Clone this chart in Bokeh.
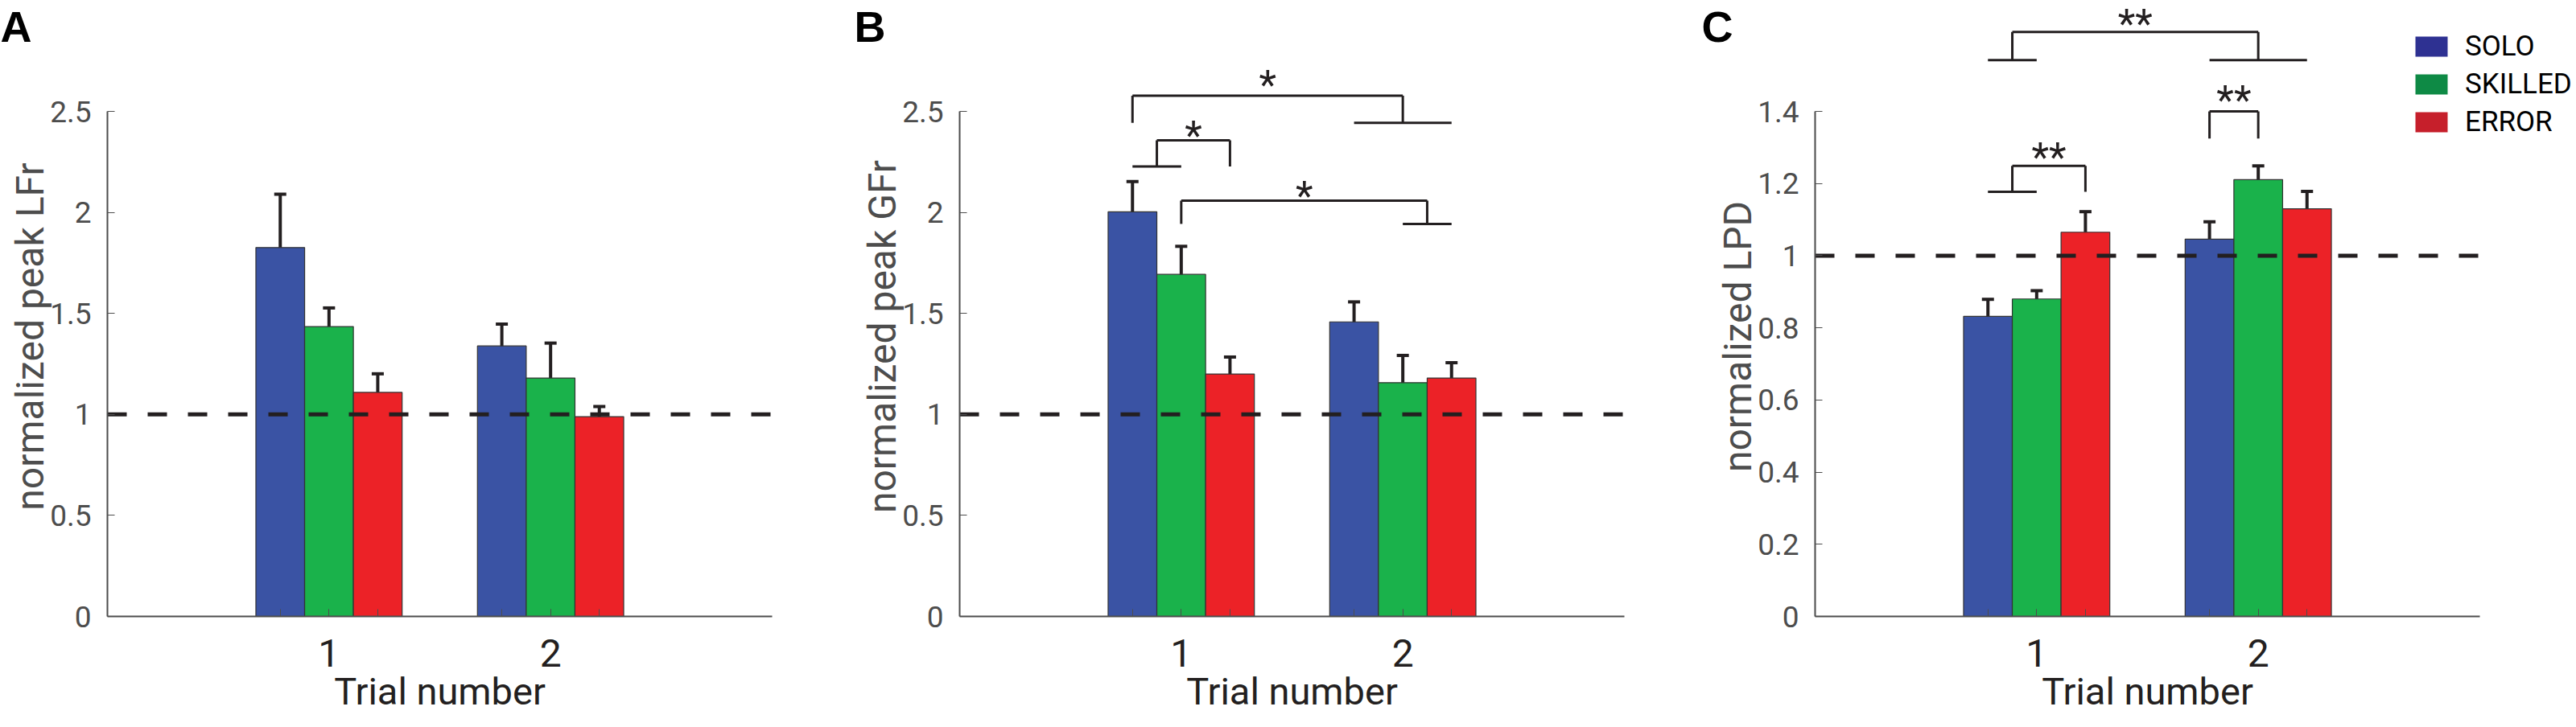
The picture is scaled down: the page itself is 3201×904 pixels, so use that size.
from bokeh.plotting import figure
from bokeh.layouts import row
from bokeh.models import (ColumnDataSource, FixedTicker, Whisker, TeeHead,
                          Legend, LegendItem, Range1d, Label, LinearAxis)
from bokeh.core.properties import value
from bokeh.embed import file_html
from bokeh.resources import INLINE

# ---------------- data ----------------
SERIES = ["SOLO", "SKILLED", "ERROR"]
TRIALS = [1, 2]
X_TICK_LABELS = ["1", "2"]
X_LIMITS = [0, 3]
BASELINE = 1.0
BAR_COLORS = ["#3A53A4", "#1AB24B", "#EC2227"]
LEGEND_COLORS = ["#2E3192", "#0E8A45", "#C61F2B"]

# Panel A : normalized peak LFr
A_SOLO = [1.826, 1.339]
A_SOLO_ERR = [0.264, 0.108]
A_SKILLED = [1.435, 1.180]
A_SKILLED_ERR = [0.092, 0.173]
A_ERROR = [1.109, 0.989]
A_ERROR_ERR = [0.092, 0.050]
A_YTICKS = [0, 0.5, 1, 1.5, 2, 2.5]
A_YTICKLABELS = ["0", "0.5", "1", "1.5", "2", "2.5"]

# Panel B : normalized peak GFr
B_SOLO = [2.003, 1.458]
B_SOLO_ERR = [0.150, 0.099]
B_SKILLED = [1.693, 1.157]
B_SKILLED_ERR = [0.139, 0.135]
B_ERROR = [1.200, 1.180]
B_ERROR_ERR = [0.084, 0.076]
B_YTICKS = [0, 0.5, 1, 1.5, 2, 2.5]
B_YTICKLABELS = ["0", "0.5", "1", "1.5", "2", "2.5"]

# Panel C : normalized LPD
C_SOLO = [0.832, 1.046]
C_SOLO_ERR = [0.047, 0.048]
C_SKILLED = [0.880, 1.211]
C_SKILLED_ERR = [0.023, 0.038]
C_ERROR = [1.065, 1.130]
C_ERROR_ERR = [0.057, 0.048]
C_YTICKS = [0, 0.2, 0.4, 0.6, 0.8, 1, 1.2, 1.4]
C_YTICKLABELS = ["0", "0.2", "0.4", "0.6", "0.8", "1", "1.2", "1.4"]

# significance brackets: (left bars, right bars, bracket top, leg bottom, text, text y)
# bars given as (trial, series index)
B_BRACKETS = [
    ([(1, 0)], [(2, 0), (2, 1), (2, 2)], 2.578, 2.443, "*", 2.68),
    ([(1, 0), (1, 1)], [(1, 2)], 2.357, 2.227, "*", 2.43),
    ([(1, 1)], [(2, 1), (2, 2)], 2.058, 1.943, "*", 2.13),
]
C_BRACKETS = [
    ([(1, 0), (1, 1)], [(2, 0), (2, 1), (2, 2)], 1.620, 1.542, "**", 1.670),
    ([(1, 0), (1, 1)], [(1, 2)], 1.249, 1.177, "**", 1.300),
    ([(2, 0)], [(2, 1)], 1.400, 1.325, "**", 1.458),
]

# ---------------- style / layout ----------------
BAR_W = 0.22
FONT = "Roboto"
INK = "#231F20"
AXIS_GREY = "#4D4D4D"
FIG_H = 904
ORIGIN_Y = 766       # page y of the value 0 line
AXIS_Y_PX = 628      # drawn length of the y axis
AXIS_X_PX = 826      # drawn length of the x axis
YLABEL_SHIFT_PX = -34


def bar_x(trial, s):
    return trial + (s - 1) * BAR_W


def make_panel(fig_w, origin_x, means, errs, yticks, yticklabels, ylabel,
               letter, letter_x, brackets=None, legend=False):
    ymax = yticks[-1]
    pxu = AXIS_X_PX / (X_LIMITS[1] - X_LIMITS[0])
    pyu = AXIS_Y_PX / ymax
    p = figure(width=fig_w, height=FIG_H,
               x_range=Range1d(X_LIMITS[0] - origin_x / pxu,
                               X_LIMITS[0] + (fig_w - origin_x) / pxu),
               y_range=Range1d(-(FIG_H - ORIGIN_Y) / pyu, ORIGIN_Y / pyu),
               output_backend="svg", toolbar_location=None,
               min_border=0, min_border_left=0, min_border_right=0,
               min_border_top=0, min_border_bottom=0,
               outline_line_color=None)
    p.grid.visible = False

    xs, tops, cols, lo, hi = [], [], [], [], []
    for s in range(len(SERIES)):
        for t_i, t in enumerate(TRIALS):
            xs.append(bar_x(t, s))
            tops.append(means[s][t_i])
            cols.append(BAR_COLORS[s])
            lo.append(means[s][t_i] - errs[s][t_i])
            hi.append(means[s][t_i] + errs[s][t_i])
    src = ColumnDataSource(dict(x=xs, top=tops, color=cols, lower=lo, upper=hi))
    p.vbar(x="x", top="top", width=BAR_W, fill_color="color",
           line_color="#333333", line_width=1.2, source=src)

    p.line(x=X_LIMITS, y=[BASELINE, BASELINE], line_dash="24 26",
           line_width=5, line_color=INK)

    w = Whisker(base="x", upper="upper", lower="lower", source=src,
                line_width=4, line_color=INK,
                upper_head=TeeHead(size=15, line_width=4, line_color=INK),
                lower_head=TeeHead(size=15, line_width=4, line_color=INK))
    p.add_layout(w)

    if brackets:
        x0, y0, x1, y1 = [], [], [], []
        tx, ty, tt = [], [], []
        for left, right, top, bot, txt, ty_ in brackets:
            lxs = [bar_x(t, s) for t, s in left]
            rxs = [bar_x(t, s) for t, s in right]
            xl = sum(lxs) / len(lxs)
            xr = sum(rxs) / len(rxs)
            segs = [(xl, top, xr, top), (xl, top, xl, bot), (xr, top, xr, bot)]
            if len(lxs) > 1:
                segs.append((min(lxs), bot, max(lxs), bot))
            if len(rxs) > 1:
                segs.append((min(rxs), bot, max(rxs), bot))
            for a, b, c, d in segs:
                x0.append(a); y0.append(b); x1.append(c); y1.append(d)
            tx.append((xl + xr) / 2); ty.append(ty_); tt.append(txt)
        p.segment(x0=x0, y0=y0, x1=x1, y1=y1, line_width=3, line_color=INK)
        p.text(x=tx, y=ty, text=tt, text_align="center",
               text_baseline="middle", y_offset=13, text_font=value(FONT),
               text_font_size="50px", text_color=INK)

    xa = p.xaxis[0]
    xa.fixed_location = 0
    xa.ticker = FixedTicker(ticks=TRIALS,
                            minor_ticks=[bar_x(t, s) for t in TRIALS for s in range(3)])
    xa.major_label_overrides = {t: l for t, l in zip(TRIALS, X_TICK_LABELS)}
    xa.bounds = (X_LIMITS[0], X_LIMITS[1])
    xa.axis_line_color = AXIS_GREY
    xa.axis_line_width = 2
    xa.major_tick_in = 9
    xa.major_tick_out = 0
    xa.minor_tick_in = 9
    xa.minor_tick_out = 0
    xa.major_tick_line_color = AXIS_GREY
    xa.minor_tick_line_color = AXIS_GREY
    xa.major_label_text_font = FONT
    xa.major_label_text_font_size = "48px"
    xa.major_label_text_color = INK
    xa.major_label_standoff = 28
    xa.axis_label = "Trial number"
    xa.axis_label_text_font = FONT
    xa.axis_label_text_font_size = "47px"
    xa.axis_label_text_font_style = "normal"
    xa.axis_label_text_color = INK
    xa.axis_label_standoff = 0

    ya = p.yaxis[0]
    ya.fixed_location = 0
    ya.ticker = FixedTicker(ticks=yticks, minor_ticks=[])
    ya.major_label_overrides = {t: l for t, l in zip(yticks, yticklabels)}
    ya.bounds = (0, ymax)
    ya.axis_line_color = AXIS_GREY
    ya.axis_line_width = 2
    ya.major_tick_in = 9
    ya.major_tick_out = 0
    ya.major_tick_line_color = AXIS_GREY
    ya.major_label_text_font = FONT
    ya.major_label_text_font_size = "37px"
    ya.major_label_text_color = AXIS_GREY
    ya.major_label_standoff = 20

    # second, bare axis that only carries the y label
    shift = YLABEL_SHIFT_PX / pyu
    yl = LinearAxis(fixed_location=0, ticker=FixedTicker(ticks=[], minor_ticks=[]),
                    bounds=(-shift, ymax - shift), axis_line_alpha=0,
                    major_tick_line_alpha=0, minor_tick_line_alpha=0,
                    axis_label=ylabel, axis_label_text_font=FONT,
                    axis_label_text_font_size="48px",
                    axis_label_text_font_style="normal",
                    axis_label_text_color=AXIS_GREY, axis_label_standoff=68)
    p.add_layout(yl, "left")

    p.add_layout(Label(x=letter_x, y=FIG_H - 32, x_units="screen",
                       y_units="screen", text=letter, text_font="Liberation Sans",
                       text_font_style="bold", text_font_size="54px",
                       text_color="#000000", text_baseline="alphabetic"))

    if legend:
        items = []
        for s, name in enumerate(SERIES):
            r = p.rect(x=[float("nan")], y=[float("nan")], width=0.1, height=0.1,
                       fill_color=LEGEND_COLORS[s], line_color=None)
            items.append(LegendItem(label=name, renderers=[r]))
        lg = Legend(items=items, location=(884, FIG_H - 172),
                    glyph_width=50, glyph_height=31, spacing=6,
                    label_standoff=17, padding=0, margin=0,
                    border_line_color=None, background_fill_alpha=0,
                    label_text_font=FONT, label_text_font_size="35px",
                    label_text_color="#000000", label_height=41)
        p.add_layout(lg)
    return p


pA = make_panel(1058, 133, [A_SOLO, A_SKILLED, A_ERROR],
                [A_SOLO_ERR, A_SKILLED_ERR, A_ERROR_ERR],
                A_YTICKS, A_YTICKLABELS, "normalized peak LFr", "A", 0)
pB = make_panel(1054, 134, [B_SOLO, B_SKILLED, B_ERROR],
                [B_SOLO_ERR, B_SKILLED_ERR, B_ERROR_ERR],
                B_YTICKS, B_YTICKLABELS, "normalized peak GFr", "B", 3,
                brackets=B_BRACKETS)
pC = make_panel(1089, 143, [C_SOLO, C_SKILLED, C_ERROR],
                [C_SOLO_ERR, C_SKILLED_ERR, C_ERROR_ERR],
                C_YTICKS, C_YTICKLABELS, "normalized LPD", "C", 2,
                brackets=C_BRACKETS, legend=True)

layout = row(pA, pB, pC, spacing=0)
open("out.html", "w").write(file_html(layout, INLINE))
